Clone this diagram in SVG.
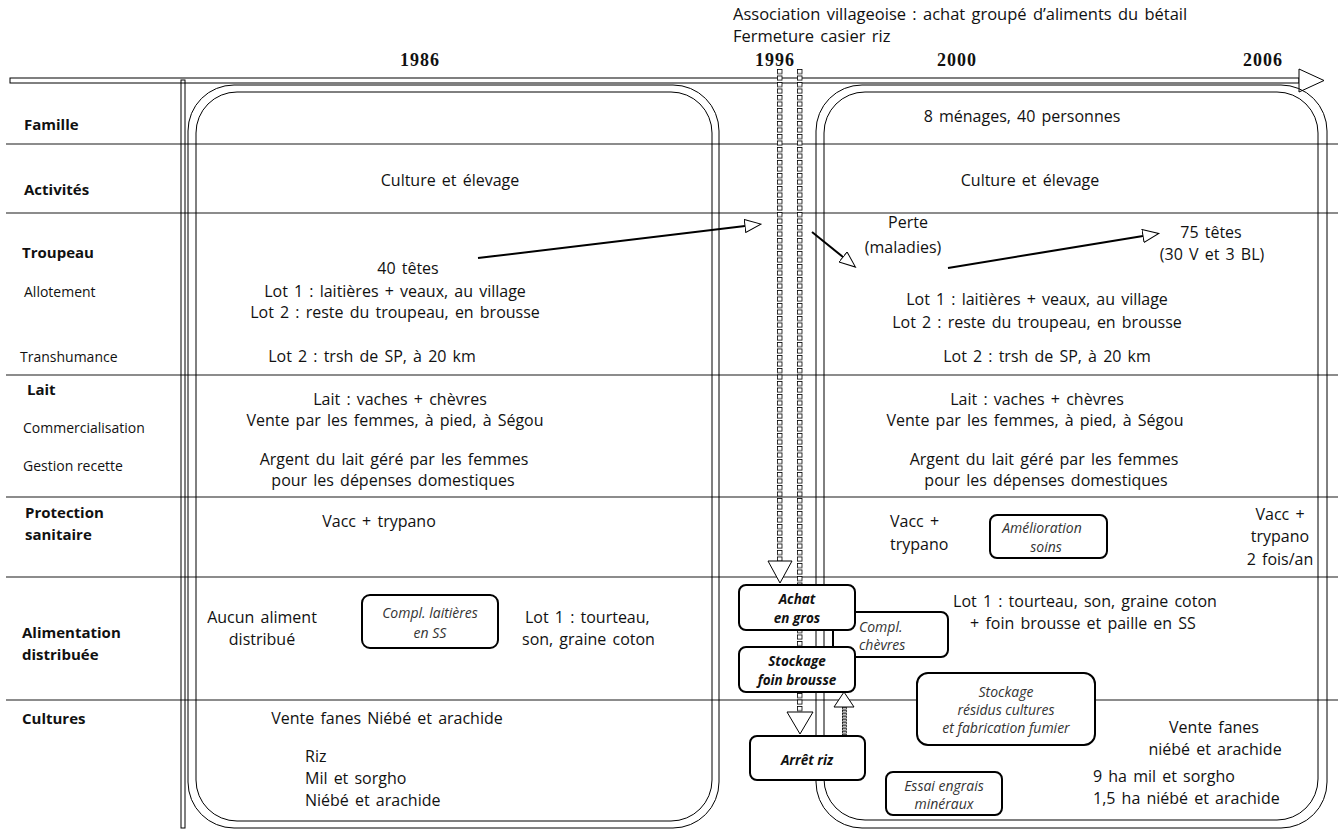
<svg xmlns="http://www.w3.org/2000/svg" width="1341" height="829" viewBox="0 0 1341 829">
<style>
.t{font-family:"Open Sans","Liberation Sans",sans-serif;font-size:16px;word-spacing:2px;fill:#111}
.c{text-anchor:middle}
.lb{font-weight:bold;font-size:15px;word-spacing:0}
.sl{font-size:14px;word-spacing:0}
.yr{font-family:"Liberation Serif",serif;font-weight:bold;font-size:18px;letter-spacing:1px;fill:#111}
.it{font-style:italic;font-size:14px;word-spacing:0;fill:#333}
.bb{font-style:italic;font-weight:bold;font-size:13.5px;word-spacing:0}
.box{fill:#fff;stroke:#000;stroke-width:2}
.grid{stroke:#8c8c8c;stroke-width:2}
.pl{fill:none;stroke:#000;stroke-width:1}
.ar{stroke:#000;stroke-width:2;fill:none}
</style>
<defs>
<pattern id="sq" x="777" y="69" width="20" height="6.5" patternUnits="userSpaceOnUse">
<rect x="0.5" y="0.5" width="4.5" height="4.2" fill="#fff" stroke="#000" stroke-width="0.8"/>
</pattern>
<pattern id="sq2" x="842" y="707" width="10" height="3" patternUnits="userSpaceOnUse">
<rect x="0.5" y="0.3" width="4" height="1.8" fill="#fff" stroke="#000" stroke-width="0.7"/>
</pattern>
<marker id="oa" markerWidth="18" markerHeight="14" refX="0.5" refY="7" orient="auto" markerUnits="userSpaceOnUse">
<path d="M0.5,0.5 L16.5,7 L0.5,13.5 Z" fill="#fff" stroke="#000" stroke-width="1"/>
</marker>
</defs>
<rect width="1341" height="829" fill="#fff"/>

<g id="grid">
<line class="grid" x1="6" y1="144" x2="1338" y2="144"/>
<line class="grid" x1="6" y1="213" x2="1338" y2="213"/>
<line class="grid" x1="6" y1="375" x2="1338" y2="375"/>
<line class="grid" x1="6" y1="497" x2="1338" y2="497"/>
<line class="grid" x1="6" y1="577" x2="1338" y2="577"/>
<line class="grid" x1="6" y1="700" x2="1338" y2="700"/>
</g>

<g id="timeline">
<rect x="10" y="78" width="1289" height="5" fill="#fff" stroke="#000" stroke-width="1"/>
<polygon points="1299,69 1324,80.5 1299,92" fill="#fff" stroke="#000" stroke-width="1"/>
<rect x="181" y="80" width="4" height="748" class="pl"/>
<text class="yr c" x="420" y="66">1986</text>
<text class="yr c" x="775" y="66">1996</text>
<text class="yr c" x="957" y="66">2000</text>
<text class="yr c" x="1263" y="66">2006</text>
<text class="t" x="733" y="20" style="font-size:16.5px">Association villageoise : achat groupé d’aliments du bétail</text>
<text class="t" x="733" y="42" style="font-size:16.5px">Fermeture casier riz</text>
</g>

<g id="panel-1986">
<rect class="pl" x="188" y="85" width="531" height="743" rx="46"/>
<rect class="pl" x="196" y="92" width="516" height="729" rx="41"/>
</g>
<g id="panel-2000">
<rect class="pl" x="816" y="85" width="511" height="743" rx="46"/>
<rect class="pl" x="824" y="92" width="494" height="728" rx="41"/>
</g>

<g id="labels">
<text class="t lb" x="24" y="130">Famille</text>
<text class="t lb" x="24" y="195">Activités</text>
<text class="t lb" x="22" y="258">Troupeau</text>
<text class="t sl" x="24" y="297">Allotement</text>
<text class="t sl" x="20" y="362">Transhumance</text>
<text class="t lb" x="27" y="395">Lait</text>
<text class="t sl" x="23" y="433">Commercialisation</text>
<text class="t sl" x="23" y="471">Gestion recette</text>
<text class="t lb" x="25" y="518">Protection</text>
<text class="t lb" x="25" y="540">sanitaire</text>
<text class="t lb" x="22" y="638">Alimentation</text>
<text class="t lb" x="22" y="660">distribuée</text>
<text class="t lb" x="22" y="724">Cultures</text>
</g>

<g id="connectors">
<rect x="777" y="69" width="6" height="492" fill="url(#sq)"/>
<rect x="797" y="69" width="6" height="643" fill="url(#sq)"/>
<polygon points="768,561 792,561 780,583" fill="#fff" stroke="#000" stroke-width="1"/>
<polygon points="787,712 813,712 800,734" fill="#fff" stroke="#000" stroke-width="1"/>
<rect x="842" y="707" width="5" height="29" fill="url(#sq2)"/>
<polygon points="834,707 854,707 844,692" fill="#fff" stroke="#000" stroke-width="1"/>
<line class="ar" x1="478" y1="258" x2="745" y2="226" marker-end="url(#oa)"/>
<line class="ar" x1="812" y1="232" x2="843" y2="257" marker-end="url(#oa)"/>
<line class="ar" x1="948" y1="268" x2="1143" y2="236" marker-end="url(#oa)"/>
</g>

<g id="text-1986">
<text class="t c" x="450" y="186">Culture et élevage</text>
<text class="t c" x="408" y="274">40 têtes</text>
<text class="t c" x="395" y="297">Lot 1 : laitières + veaux, au village</text>
<text class="t c" x="395" y="318">Lot 2 : reste du troupeau, en brousse</text>
<text class="t c" x="372" y="362">Lot 2 : trsh de SP, à 20 km</text>
<text class="t c" x="400" y="405">Lait  : vaches + chèvres</text>
<text class="t c" x="395" y="426">Vente par les femmes, à pied, à Ségou</text>
<text class="t c" x="394" y="465">Argent du lait géré par les femmes</text>
<text class="t c" x="393" y="486">pour les dépenses domestiques</text>
<text class="t c" x="379" y="527">Vacc  + trypano</text>
<text class="t c" x="262" y="623">Aucun aliment</text>
<text class="t c" x="262" y="645">distribué</text>
<text class="t" x="525" y="623">Lot 1 : tourteau,</text>
<text class="t" x="522" y="645">son, graine coton</text>
<text class="t c" x="387" y="724">Vente fanes Niébé et arachide</text>
<text class="t" x="305" y="762">Riz</text>
<text class="t" x="305" y="784">Mil et sorgho</text>
<text class="t" x="305" y="806">Niébé et arachide</text>
</g>

<g id="box-compl-laitieres">
<rect class="box" x="362" y="595" width="136" height="53" rx="8"/>
<text class="t it c" x="430" y="618">Compl. laitières</text>
<text class="t it c" x="430" y="638">en SS</text>
</g>

<g id="text-2000">
<text class="t c" x="1022" y="122">8 ménages, 40 personnes</text>
<text class="t c" x="1030" y="186">Culture et élevage</text>
<text class="t c" x="908" y="228">Perte</text>
<text class="t c" x="903" y="253">(maladies)</text>
<text class="t c" x="1211" y="238">75 têtes</text>
<text class="t c" x="1212" y="260">(30 V et 3 BL)</text>
<text class="t c" x="1037" y="305">Lot 1 : laitières + veaux, au village</text>
<text class="t c" x="1037" y="328">Lot 2 : reste du troupeau, en brousse</text>
<text class="t c" x="1047" y="362">Lot 2 : trsh de SP, à 20 km</text>
<text class="t c" x="1037" y="405">Lait  : vaches + chèvres</text>
<text class="t c" x="1035" y="426">Vente par les femmes, à pied, à Ségou</text>
<text class="t c" x="1044" y="465">Argent du lait géré par les femmes</text>
<text class="t c" x="1046" y="486">pour les dépenses domestiques</text>
<text class="t" x="890" y="527">Vacc +</text>
<text class="t" x="890" y="550">trypano</text>
<text class="t c" x="1280" y="520">Vacc  +</text>
<text class="t c" x="1280" y="542">trypano</text>
<text class="t c" x="1280" y="565">2 fois/an</text>
<text class="t c" x="1085" y="607">Lot 1 : tourteau, son, graine coton</text>
<text class="t c" x="1083" y="629">+ foin brousse et paille en SS</text>
<text class="t c" x="1214" y="733">Vente fanes</text>
<text class="t c" x="1215" y="755">niébé et arachide</text>
<text class="t" x="1093" y="782">9 ha mil et sorgho</text>
<text class="t" x="1093" y="804">1,5 ha niébé et arachide</text>
</g>

<g id="box-amelioration">
<rect class="box" x="990" y="515" width="117" height="43" rx="7"/>
<text class="t it c" x="1042" y="533">Amélioration</text>
<text class="t it c" x="1046" y="552">soins</text>
</g>

<g id="box-compl-chevres">
<rect class="box" x="833" y="612" width="115" height="45" rx="7"/>
<text class="t it" x="859" y="632">Compl.</text>
<text class="t it" x="859" y="650">chèvres</text>
</g>

<g id="box-achat">
<rect class="box" x="739" y="585" width="116" height="45" rx="7"/>
<text class="t bb c" x="797" y="604">Achat</text>
<text class="t bb c" x="797" y="623">en gros</text>
</g>

<g id="box-stockage-foin">
<rect class="box" x="739" y="647" width="116" height="45" rx="7"/>
<text class="t bb c" x="797" y="666">Stockage</text>
<text class="t bb c" x="797" y="685">foin brousse</text>
</g>

<g id="box-arret-riz">
<rect class="box" x="750" y="736" width="115" height="44" rx="7"/>
<text class="t bb c" x="807" y="765">Arrêt riz</text>
</g>

<g id="box-stockage-residus">
<rect class="box" x="917" y="673" width="178" height="72" rx="11"/>
<text class="t it c" x="1006" y="697">Stockage</text>
<text class="t it c" x="1006" y="715">résidus cultures</text>
<text class="t it c" x="1006" y="733">et fabrication fumier</text>
</g>

<g id="box-essai-engrais">
<rect class="box" x="886" y="772" width="116" height="43" rx="7"/>
<text class="t it c" x="944" y="791">Essai engrais</text>
<text class="t it c" x="944" y="809">minéraux</text>
</g>
</svg>
